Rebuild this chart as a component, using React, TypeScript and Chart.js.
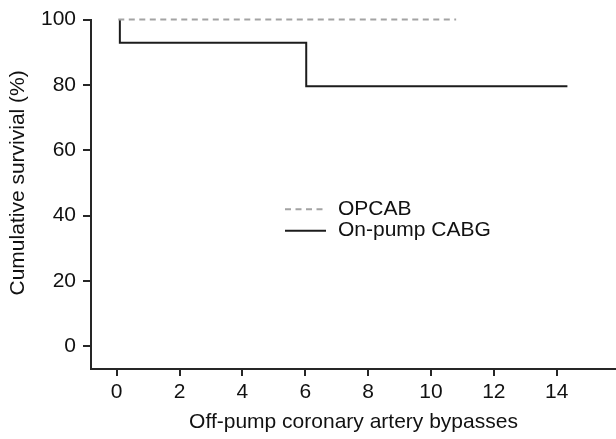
import React, { useEffect, useRef } from "react";
import { Chart, registerables } from "chart.js";

Chart.register(...registerables);

// ---- data ----
const opcabTime = [0.05, 10.8];
const opcabSurv = [100, 100];
const onPumpTime = [0.1, 0.1, 6.03, 6.03, 14.34];
const onPumpSurv = [100, 92.9, 92.9, 79.6, 79.6];
const xTickValues = [0, 2, 4, 6, 8, 10, 12, 14];
const yTickValues = [0, 20, 40, 60, 80, 100];
const seriesNames = ["OPCAB", "On-pump CABG"];
const xTitle = "Off-pump coronary artery bypasses";
const yTitle = "Cumulative survivial (%)";

const FONT_FAMILY = "'Liberation Sans', Arial, Helvetica, sans-serif";
const FONT_SIZE = 21;
const TEXT_COLOR = "#111111";
const AXIS_COLOR = "#262626";

const legendAndTitlePlugin = {
  id: "customLegendTitle",
  afterDraw(chart: any) {
    const ctx = chart.ctx;
    const yScale = chart.scales.y;
    ctx.save();
    // y title centred on the 0..100 range
    const yc = (yScale.getPixelForValue(0) + yScale.getPixelForValue(100)) / 2;
    ctx.translate(18, yc);
    ctx.rotate(-Math.PI / 2);
    ctx.font = `${FONT_SIZE}px ${FONT_FAMILY}`;
    ctx.fillStyle = TEXT_COLOR;
    ctx.textAlign = "center";
    ctx.textBaseline = "middle";
    ctx.fillText(yTitle, 0, 0);
    ctx.restore();

    // legend
    const rows = [209.3, 230.7];
    chart.data.datasets.forEach((ds: any, i: number) => {
      const y = rows[i];
      ctx.save();
      ctx.strokeStyle = ds.borderColor;
      ctx.lineWidth = ds.borderWidth;
      ctx.setLineDash(ds.borderDash || []);
      ctx.lineCap = "butt";
      ctx.beginPath();
      ctx.moveTo(285, y);
      ctx.lineTo(i === 0 ? 324 : 326, y);
      ctx.stroke();
      ctx.setLineDash([]);
      ctx.font = `${FONT_SIZE}px ${FONT_FAMILY}`;
      ctx.fillStyle = TEXT_COLOR;
      ctx.textAlign = "left";
      ctx.textBaseline = "middle";
      ctx.fillText(seriesNames[i], 338, y);
      ctx.restore();
    });
  },
};

export default function App() {
  const canvasRef = useRef<HTMLCanvasElement | null>(null);

  useEffect(() => {
    if (!canvasRef.current) return;
    const font = { family: FONT_FAMILY, size: FONT_SIZE };
    const chart = new Chart(canvasRef.current, {
      type: "line",
      data: {
        datasets: [
          {
            label: seriesNames[0],
            data: opcabTime.map((t, i) => ({ x: t, y: opcabSurv[i] })),
            borderColor: "#a3a3a3",
            borderWidth: 2,
            borderDash: [6, 4.5],
            pointRadius: 0,
            tension: 0,
            fill: false,
            clip: 6,
          },
          {
            label: seriesNames[1],
            data: onPumpTime.map((t, i) => ({ x: t, y: onPumpSurv[i] })),
            borderColor: "#1c1c1c",
            borderWidth: 2,
            pointRadius: 0,
            tension: 0,
            fill: false,
            borderJoinStyle: "miter",
            clip: 6,
          },
        ],
      } as any,
      options: {
        animation: false,
        responsive: false,
        devicePixelRatio: 1,
        layout: { padding: { top: 17.3, right: 0, bottom: 0, left: 0 } },
        plugins: {
          legend: { display: false },
          tooltip: { enabled: false },
        },
        scales: {
          x: {
            type: "linear",
            min: -0.818,
            max: 15.886,
            afterBuildTicks: (s: any) => {
              s.ticks = xTickValues.map((v) => ({ value: v }));
            },
            afterFit: (s: any) => {
              s.height = 70;
            },
            ticks: {
              font,
              color: TEXT_COLOR,
              padding: 4,
              maxRotation: 0,
              autoSkip: false,
              callback: (v: any) => String(v),
            },
            grid: {
              display: true,
              drawOnChartArea: false,
              drawTicks: true,
              tickLength: 7,
              lineWidth: 2,
              color: AXIS_COLOR,
            },
            border: { display: true, color: AXIS_COLOR, width: 2 },
            title: {
              display: true,
              text: xTitle,
              font,
              color: TEXT_COLOR,
              padding: { top: 0, bottom: 4 },
            },
          },
          y: {
            type: "linear",
            min: -7,
            max: 100,
            afterBuildTicks: (s: any) => {
              s.ticks = yTickValues.map((v) => ({ value: v }));
            },
            afterFit: (s: any) => {
              s.width = 91;
            },
            ticks: {
              font,
              color: TEXT_COLOR,
              padding: 7,
              autoSkip: false,
              callback: (v: any) => String(v),
            },
            grid: {
              display: true,
              drawOnChartArea: false,
              drawTicks: true,
              tickLength: 8,
              lineWidth: 2,
              color: AXIS_COLOR,
            },
            border: { display: true, color: AXIS_COLOR, width: 2 },
          },
        },
      } as any,
      plugins: [legendAndTitlePlugin],
    });
    return () => chart.destroy();
  }, []);

  return (
    <div style={{ position: "fixed", left: 0, top: 0, width: 616, height: 439, background: "#fff" }}>
      <canvas ref={canvasRef} width={616} height={439} style={{ display: "block", width: 616, height: 439 }} />
    </div>
  );
}
